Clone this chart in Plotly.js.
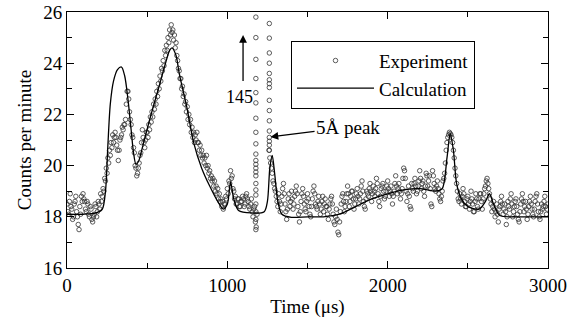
<!DOCTYPE html>
<html>
<head>
<meta charset="utf-8">
<script src="https://cdn.plot.ly/plotly-3.0.1.min.js"></script>
<style>html,body{margin:0;padding:0;background:#fff}#chart{width:583px;height:327px}</style>
</head>
<body>
<div id="chart"></div>
<script>
// Experimental counts per minute, one value every 5 microseconds from 0 to 3000 (20 values per row = 100 us)
var expStart = 0, expStep = 5;
var expCounts = [
  18.5,18.2,18.1,18.6,18.9,18.4,18.3,17.9,18.0,18.5,18.6,18.8,18.2,18.0,17.7,17.5,18.4,18.1,18.8,18.6,
  18.9,18.7,18.6,18.3,18.2,18.6,18.5,18.1,18.0,18.4,18.3,17.9,17.8,18.0,18.1,18.5,18.4,18.0,18.2,18.6,
  18.5,18.3,18.9,18.6,18.8,19.1,19.0,19.5,19.4,19.9,19.7,20.3,20.1,20.6,20.4,20.9,20.7,21.2,20.9,21.1,
  21.3,21.1,20.8,20.6,20.2,20.6,21.0,21.1,21.2,21.5,21.4,21.6,21.6,21.8,22.4,22.9,22.9,22.6,22.1,21.8,
  21.6,21.2,21.1,20.7,20.5,20.0,19.9,19.6,19.7,19.9,20.1,20.4,20.5,20.9,21.4,21.1,20.9,20.7,21.0,21.3,
  21.3,21.1,21.6,21.4,21.9,21.7,22.1,21.9,22.4,22.2,22.6,22.4,22.9,22.7,23.2,23.0,23.5,23.3,23.8,23.7,
  24.1,23.9,24.5,24.3,24.7,24.5,25.0,24.8,25.3,25.1,25.5,25.2,25.3,24.9,25.1,24.6,24.8,24.3,24.1,23.8,
  23.7,23.4,23.4,23.0,23.1,22.7,22.8,22.4,22.5,22.1,22.3,21.8,22.0,21.6,21.8,21.3,21.5,21.1,21.3,20.9,
  21.2,21.0,21.3,20.9,20.9,20.6,20.8,20.4,20.6,20.3,20.4,20.1,20.3,20.0,20.4,19.9,20.0,19.7,19.8,19.5,
  19.6,19.4,19.5,19.2,19.4,19.0,19.2,18.9,19.1,18.7,18.9,18.6,18.7,18.4,18.6,18.3,18.5,18.5,18.8,18.7,
  19.1,18.9,19.4,19.3,19.8,19.5,19.6,19.1,19.0,18.7,18.8,18.5,18.5,18.7,18.7,18.4,18.4,18.6,18.6,18.8,
  18.7,18.4,18.5,18.8,18.9,18.7,18.6,18.4,18.3,18.5,18.7,18.2,18.0,18.3,18.4,17.8,17.6,18.1,40,65,
  90,120,145,135,120,100,80,60,45,35,28,27,20.6,20.3,20.1,19.9,19.7,19.4,19.3,19.1,
  19.0,18.8,18.6,18.4,18.9,18.6,18.2,18.5,18.8,19.1,19.3,18.9,18.5,18.2,17.9,18.3,18.7,18.9,18.4,18.6,
  19.0,18.7,18.3,18.5,18.8,19.0,19.2,18.9,18.4,18.1,17.8,18.2,18.6,18.9,19.1,18.8,18.5,18.3,18.2,18.6,
  18.9,18.7,18.4,18.1,18.0,18.4,18.7,19.0,19.2,18.9,18.5,18.4,18.3,18.6,18.8,18.5,18.1,18.3,18.6,18.8,
  18.2,18.5,18.7,18.4,18.4,18.1,17.9,18.3,18.5,18.7,18.8,18.5,18.1,17.8,17.7,18.0,18.3,17.9,17.4,17.3,
  17.8,18.2,18.5,18.8,18.9,18.6,18.2,18.4,18.6,18.9,19.2,18.9,18.4,18.6,18.8,19.0,19.0,18.7,18.3,18.5,
  18.7,18.9,19.1,18.8,18.5,18.7,18.9,19.2,19.4,19.0,18.6,18.4,18.3,18.7,19.0,18.9,18.8,19.1,19.3,19.0,
  18.6,18.9,19.2,19.0,18.8,19.1,19.5,19.3,18.9,18.6,18.4,18.8,19.1,19.2,19.3,19.0,18.7,18.8,19.0,19.2,
  19.4,19.1,18.8,19.0,19.2,18.9,18.5,18.8,19.0,19.3,19.6,19.2,18.9,19.1,19.3,19.0,18.7,18.9,19.1,19.5,
  19.9,19.8,19.5,19.0,18.6,18.9,19.2,18.8,18.4,18.3,19.3,19.1,19.0,19.3,19.5,19.2,18.9,19.0,19.2,19.4,
  19.8,19.5,19.1,19.3,19.4,19.0,18.8,19.2,19.7,19.6,19.2,19.4,19.6,19.1,18.5,18.4,19.8,19.6,19.3,19.1,
  19.0,19.2,19.4,19.1,18.9,18.7,18.6,18.8,19.0,19.4,19.5,19.7,20.1,20.6,20.9,21.1,21.2,21.3,21.25,21.2,
  21.1,20.9,20.6,20.3,19.9,19.6,19.3,19.0,18.7,18.6,18.9,18.7,18.5,18.8,19.1,18.9,18.6,18.4,18.4,18.7,
  18.8,18.5,18.3,18.6,19.0,18.7,18.5,18.2,18.2,18.6,18.9,18.7,18.4,18.3,18.7,18.9,18.9,18.6,18.3,18.7,
  18.9,19.1,19.2,19.4,19.5,19.3,19.1,18.9,18.7,18.5,18.2,18.4,18.6,18.3,18.0,18.2,18.5,18.1,17.8,18.3,
  18.4,18.6,18.8,18.5,18.1,18.3,18.5,18.2,17.7,18.0,18.6,18.4,18.3,18.7,18.9,18.5,18.0,18.2,18.4,18.6,
  18.7,18.4,18.1,17.9,17.8,18.2,18.5,18.7,18.9,18.6,18.2,18.4,18.6,18.3,17.9,18.1,18.4,18.6,18.8,18.5,
  18.3,18.1,18.0,18.3,18.6,18.8,18.9,18.5,18.2,18.0,17.9,18.2,18.5,18.3,18.4,18.6,18.8,18.4,18.1,18.3,
  18.5
];
// Columns of points on the two flanks of the off-scale peak
var flankTimes = [1178, 1262];
var flankLeftCounts = [25.8,25.0,24.15,23.4,22.85,22.45,21.85,21.3,20.85,20.45,20.2,20.05,19.9,19.75,19.6,19.3,19.05,18.85,18.5,18.2,17.9,17.5];
var flankRightCounts = [25.55,24.98,24.4,24.0,23.6,23.35,23.2,23.05,22.55,22.15,21.75,21.35,21.1,20.95,20.8,20.6];

// Calculated curve
var calcTime = [0,100,180,220,240,255,270,290,315,340,360,380,400,415,430,445,470,520,570,610,640,655,680,700,750,790,840,890,940,975,1000,1020,1040,1070,1150,1230,1250,1265,1280,1295,1315,1340,1400,1500,1600,1700,1800,1900,2000,2100,2200,2300,2340,2370,2390,2410,2430,2460,2500,2570,2610,2635,2660,2700,2800,3000];
var calcCounts = [18.1,18.1,18.15,18.3,19.0,20.8,22.4,23.3,23.75,23.85,23.5,22.6,21.4,20.5,20.05,20.15,20.7,21.9,23.0,23.9,24.5,24.6,24.3,23.6,22.2,20.9,19.9,19.2,18.6,18.3,18.5,19.35,18.7,18.25,18.15,18.2,18.6,19.9,20.4,19.7,18.6,18.1,17.98,18.0,18.0,18.1,18.4,18.7,18.9,19.05,19.1,19.0,19.1,20.3,21.25,20.6,19.3,18.7,18.4,18.3,18.6,18.9,18.5,18.05,18.0,18.0];

var xTickVals = [0,1000,2000,3000];
var yTickVals = [16,18,20,22,24,26];

var expTime = expCounts.map(function(_, i){ return expStart + i*expStep; });
var expX = expTime.slice(), expY = expCounts.slice();
flankLeftCounts.forEach(function(v){ expX.push(flankTimes[0]); expY.push(v); });
flankRightCounts.forEach(function(v){ expX.push(flankTimes[1]); expY.push(v); });

var serif = 'Liberation Serif, Times New Roman, serif';
var traces = [
  {x: expX, y: expY, type: 'scatter', mode: 'markers', name: 'Experiment',
   marker: {symbol: 'circle-open', size: 4.5, color: '#333', line: {width: 0.8, color: '#333'}}},
  {x: calcTime, y: calcCounts, type: 'scatter', mode: 'lines', name: 'Calculation',
   line: {color: '#000', width: 1.3, shape: 'spline', smoothing: 0.8}}
];
var axisCommon = {showgrid: false, zeroline: false, showline: true, linecolor: '#000', linewidth: 1,
  ticks: 'inside', ticklen: 7, tickcolor: '#000', tickwidth: 1, mirror: 'ticks',
  tickfont: {family: serif, size: 19, color: '#000'}};
var layout = {
  width: 583, height: 327,
  margin: {l: 67, r: 35, t: 12, b: 59},
  paper_bgcolor: '#fff', plot_bgcolor: '#fff',
  font: {family: serif, size: 19, color: '#000'},
  xaxis: Object.assign({}, axisCommon, {range: [0, 3000], tickvals: xTickVals,
    minor: {dtick: 500, ticks: 'inside', ticklen: 5, tickcolor: '#000'},
    title: {text: 'Time (\u03bcs)', font: {family: serif, size: 19}, standoff: 4}}),
  yaxis: Object.assign({}, axisCommon, {range: [16, 26], tickvals: yTickVals,
    minor: {dtick: 1, ticks: 'inside', ticklen: 5, tickcolor: '#000'},
    title: {text: 'Counts per minute', font: {family: serif, size: 19}, standoff: 6}}),
  showlegend: true,
  legend: {x: 0.4657, y: 0.888, xanchor: 'left', yanchor: 'top', bgcolor: '#fff',
    bordercolor: '#000', borderwidth: 1, itemwidth: 77,
    font: {family: serif, size: 19, color: '#000'}},
  annotations: [
    {x: 1098, y: 25.1, ax: 1098, ay: 23.25, xref: 'x', yref: 'y', axref: 'x', ayref: 'y',
     text: '', showarrow: true, arrowhead: 2, arrowsize: 1.2, arrowwidth: 1.3, arrowcolor: '#000'},
    {x: 1073, y: 22.68, xref: 'x', yref: 'y', text: '145', showarrow: false,
     font: {family: serif, size: 18, color: '#000'}},
    {x: 1269, y: 21.12, ax: 1753, ay: 21.5, xref: 'x', yref: 'y', axref: 'x', ayref: 'y',
     text: '5\u00c5 peak', showarrow: true, arrowhead: 2, arrowsize: 1.2, arrowwidth: 1.3, arrowcolor: '#000',
     font: {family: serif, size: 19, color: '#000'}}
  ]
};
Plotly.newPlot('chart', traces, layout, {displayModeBar: false, staticPlot: true});
</script>
</body>
</html>
